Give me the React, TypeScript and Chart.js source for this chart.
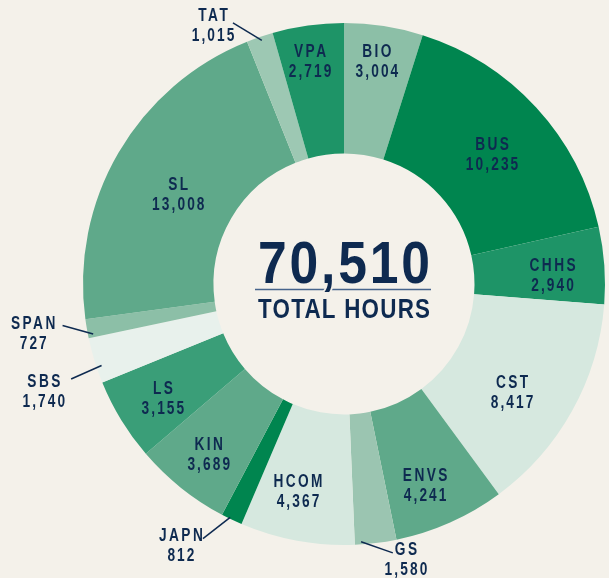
import React, { useEffect, useRef } from "react";
import { Chart, registerables } from "chart.js";

Chart.register(...registerables);

const categories = ["BIO", "BUS", "CHHS", "CST", "ENVS", "GS", "HCOM", "JAPN", "KIN", "LS", "SBS", "SPAN", "SL", "TAT", "VPA"];
const hours = [3004, 10235, 2940, 8417, 4241, 1580, 4367, 812, 3689, 3155, 1740, 727, 13008, 1015, 2719];
const colors = ["#8cbfa7", "#00854f", "#1e9467", "#d6e8df", "#5fa98a", "#9bc5b1", "#d6e8df", "#00854f", "#5fa98a", "#3a9e78", "#e8f1ec", "#8cbfa7", "#5fa98a", "#9dc8b3", "#1e9467"];
const totalHours = 70510;
const centerLabel = "TOTAL HOURS";

// label placement: [radius fraction, angle offset deg], optional leader [r0, da0, r1, da1]
const labelPos: number[][] = [
  [0.866, -0.4], [0.757, 1.1], [0.8, 1.4], [0.764, 3.5], [0.83, 2.0],
  [1.08, -5.7], [0.81, 2.2], [1.176, 6.6], [0.832, -0.1], [0.82, -0.8],
  [1.22, -2.4], [1.205, 1.1], [0.724, -1.5], [1.115, -7.9], [0.866, -0.7],
];
const leaders: (number[] | null)[] = [
  null, null, null, null, null,
  [0.99, 3.2, 1.047, -3.3], null, [0.995, 0.5, 1.115, 3.5], null, null,
  [0.98, -1.5, 1.107, -2.1], [0.98, -1.4, 1.09, 1.5], null, [0.985, 0.2, 1.087, -4.2], null,
];

const NAVY = "#0e2a50";
const BG = "#f4f1ea";
const SANS = '"Liberation Sans", Arial, sans-serif';

// draw text centered at cx, squeezed horizontally by sx, with letter spacing ls (in final px)
function drawSpaced(ctx: CanvasRenderingContext2D, text: string, cx: number, y: number, ls: number, sx: number, stroke?: string) {
  ctx.save();
  ctx.translate(cx, y);
  ctx.scale(sx, 1);
  const l = ls / sx;
  (ctx as any).letterSpacing = l + "px";
  const w = ctx.measureText(text).width;
  ctx.textAlign = "left";
  const x0 = -(w - l) / 2;
  if (stroke) {
    ctx.strokeStyle = stroke;
    ctx.lineWidth = 4;
    ctx.strokeText(text, x0, 0);
  }
  ctx.fillText(text, x0, 0);
  ctx.restore();
}

function fitSpacing(ctx: CanvasRenderingContext2D, text: string, sx: number, target: number) {
  (ctx as any).letterSpacing = "0px";
  const w = ctx.measureText(text).width * sx;
  return (target - w) / (text.length - 1);
}

const labelPlugin = {
  id: "labels",
  afterDatasetsDraw(chart: any) {
    const ctx: CanvasRenderingContext2D = chart.ctx;
    const meta = chart.getDatasetMeta(0);
    ctx.save();
    ctx.textBaseline = "alphabetic";
    meta.data.forEach((arc: any, i: number) => {
      const { x, y, startAngle, endAngle, outerRadius } = arc.getProps(["x", "y", "startAngle", "endAngle", "outerRadius"], true);
      const mid = (startAngle + endAngle) / 2;
      const rad = Math.PI / 180;
      const [rf, da] = labelPos[i];
      const a = mid + da * rad;
      const lx = x + rf * outerRadius * Math.cos(a);
      const ly = y + rf * outerRadius * Math.sin(a);
      const ld = leaders[i];
      if (ld) {
        const a0 = mid + ld[1] * rad;
        const a1 = mid + ld[3] * rad;
        ctx.beginPath();
        ctx.moveTo(x + ld[0] * outerRadius * Math.cos(a0), y + ld[0] * outerRadius * Math.sin(a0));
        ctx.lineTo(x + ld[2] * outerRadius * Math.cos(a1), y + ld[2] * outerRadius * Math.sin(a1));
        ctx.strokeStyle = NAVY;
        ctx.lineWidth = 1.5;
        ctx.stroke();
      }
      ctx.fillStyle = NAVY;
      ctx.font = `bold 18.5px ${SANS}`;
      drawSpaced(ctx, categories[i], lx, ly - 3.5, 2.4, 0.74);
      drawSpaced(ctx, hours[i].toLocaleString("en-US"), lx, ly + 16.5, 2.1, 0.74);
    });

    // center text
    const cx = meta.data[0].x;
    const cy = meta.data[0].y;
    ctx.strokeStyle = "#46648c";
    ctx.lineWidth = 1.5;
    ctx.beginPath();
    ctx.moveTo(cx - 89, cy + 5.5);
    ctx.lineTo(cx + 87, cy + 5.5);
    ctx.stroke();

    ctx.fillStyle = NAVY;
    ctx.font = `bold 60px ${SANS}`;
    const big = totalHours.toLocaleString("en-US");
    const bls = fitSpacing(ctx, big, 0.86, 172);
    drawSpaced(ctx, big, cx, cy - 1, bls, 0.86, BG);

    ctx.fillStyle = NAVY;
    ctx.font = `bold 28px ${SANS}`;
    const tls = fitSpacing(ctx, centerLabel, 0.8, 172);
    drawSpaced(ctx, centerLabel, cx, cy + 34, tls, 0.8);
    ctx.restore();
  },
};

export default function App() {
  const ref = useRef<HTMLCanvasElement>(null);
  useEffect(() => {
    document.body.style.margin = "0";
    document.body.style.background = BG;
    const chart = new Chart(ref.current!, {
      type: "doughnut",
      data: {
        labels: categories,
        datasets: [
          {
            data: hours,
            backgroundColor: colors,
            borderWidth: 0,
            hoverOffset: 0,
          },
        ],
      },
      options: {
        responsive: false,
        animation: false,
        cutout: "50%",
        layout: { padding: { left: 83, right: 4, top: 23, bottom: 33 } },
        plugins: { legend: { display: false }, tooltip: { enabled: false } },
        events: [],
      },
      plugins: [labelPlugin],
    });
    return () => chart.destroy();
  }, []);
  return (
    <div style={{ position: "fixed", left: 0, top: 0, width: 609, height: 578, background: BG }}>
      <canvas ref={ref} width={609} height={578} />
    </div>
  );
}
